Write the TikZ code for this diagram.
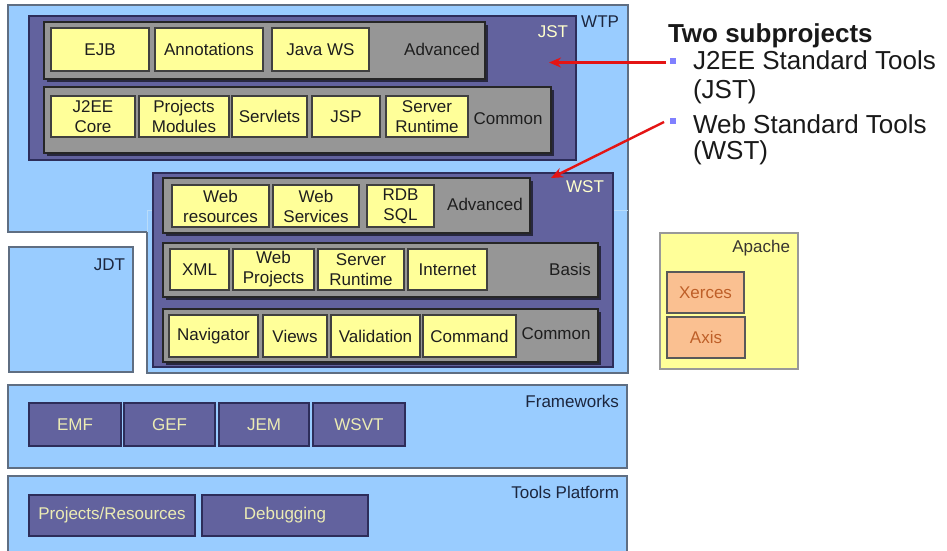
\documentclass[tikz,border=0pt]{standalone}
\usepackage{fontspec}
\setmainfont{Liberation Sans}
\usetikzlibrary{shadows,arrows.meta}
\definecolor{ltblue}{RGB}{153,204,255}
\definecolor{bordblue}{RGB}{95,110,130}
\definecolor{faint}{RGB}{185,220,250}
\definecolor{purp}{RGB}{98,98,158}
\definecolor{purpdark}{RGB}{45,45,90}
\definecolor{grayb}{RGB}{150,150,150}
\definecolor{yel}{RGB}{255,255,153}
\definecolor{peach}{RGB}{250,192,145}
\definecolor{peachtxt}{RGB}{190,95,40}
\definecolor{navy}{RGB}{28,38,62}
\definecolor{cream}{RGB}{236,236,180}
\definecolor{paleyel}{RGB}{255,255,204}
\definecolor{bul}{RGB}{128,128,255}
\definecolor{redc}{RGB}{228,20,20}
\definecolor{txt}{RGB}{30,30,30}
\begin{document}
\begin{tikzpicture}[x=1pt,y=-1pt,
  every node/.style={font=\fontsize{17}{20}\selectfont, inner sep=0pt, outer sep=0pt},
  container/.style={fill=ltblue, draw=bordblue, line width=1.4pt},
  subproj/.style={fill=purp, draw=purpdark, line width=1.4pt},
  grayrow/.style={fill=grayb, draw=black!85, line width=1.2pt,
     drop shadow={shadow xshift=2.5pt, shadow yshift=-2.5pt, fill=black, opacity=0.6}},
  ybox/.style={fill=yel, draw=black!75, line width=1.1pt, align=center, text=txt,
     drop shadow={shadow xshift=1.2pt, shadow yshift=-1.2pt, fill=black, opacity=0.35}},
  pbox/.style={fill=purp, draw=purpdark, line width=1.4pt, text=cream},
  obox/.style={fill=peach, draw=black!65, line width=1.1pt, text=peachtxt},
  rowlabel/.style={text=txt},
  darklabel/.style={text=navy, anchor=east},
  sublabel/.style={text=paleyel},
  bigtext/.style={font=\fontsize{26}{30}\selectfont, anchor=base west, text=black!90},
  bullet/.style={fill=bul, minimum width=6pt, minimum height=6pt},
  redarrow/.style={draw=redc, line width=2.4pt, -{Stealth[length=12pt,width=10pt]}}
]
\useasboundingbox (0,0) rectangle (947,550);
\fill[white] (0,0) rectangle (947,550);

% ---------- WTP container ----------
\coordinate (w1) at (8,5);
\coordinate (w2) at (628,5);
\coordinate (w3) at (628,373);
\coordinate (w4) at (147,373);
\coordinate (w5) at (147,232);
\coordinate (w6) at (8,232);
\coordinate (w7) at (147,210);
\coordinate (w8) at (628,210);
\path[container] (w1) -- (w2) -- (w3) -- (w4) -- (w5) -- (w6) -- cycle;
\draw[faint, line width=1pt] (w5) -- (w7) -- (w8);
\node[darklabel] (wtp) at (619,22) {WTP};

% ---------- JST ----------
\node[subproj, minimum width=547pt, minimum height=144pt] (jst) at (302.5,88) {};
\node[sublabel] (jstlab) at (553,32) {JST};

\node[grayrow, minimum width=441pt, minimum height=57pt] (jstadv) at (264.5,50.5) {};
\node[ybox, minimum width=98pt, minimum height=43pt] (ejb) at (100,49.5) {EJB};
\node[ybox, minimum width=108pt, minimum height=43pt] (annot) at (209,49.5) {Annotations};
\node[ybox, minimum width=97pt, minimum height=43pt] (javaws) at (320.5,49.5) {Java WS};
\node[rowlabel] (jstadvlab) at (442,49) {Advanced};

\node[grayrow, minimum width=507pt, minimum height=66pt] (jstcom) at (297.5,120) {};
\node[ybox, minimum width=84pt, minimum height=41pt] (j2ee) at (93,116.5) {J2EE\\Core};
\node[ybox, minimum width=90pt, minimum height=41pt] (projmod) at (184,116.5) {Projects\\Modules};
\node[ybox, minimum width=75pt, minimum height=41pt] (servlets) at (269.5,116.5) {Servlets};
\node[ybox, minimum width=68pt, minimum height=41pt] (jsp) at (346,116.5) {JSP};
\node[ybox, minimum width=82pt, minimum height=41pt] (srvrt1) at (427,116.5) {Server\\Runtime};
\node[rowlabel] (jstcomlab) at (508,119) {Common};

% ---------- WST ----------
\node[subproj, minimum width=460pt, minimum height=194pt] (wst) at (383,270) {};
\node[sublabel] (wstlab) at (585,187) {WST};

\node[grayrow, minimum width=367pt, minimum height=55pt] (wstadv) at (346.5,205.5) {};
\node[ybox, minimum width=97pt, minimum height=42pt] (webres) at (220.5,206) {Web\\resources};
\node[ybox, minimum width=86pt, minimum height=42pt] (websrv) at (316,206) {Web\\Services};
\node[ybox, minimum width=67pt, minimum height=42pt] (rdb) at (400.5,206) {RDB\\SQL};
\node[rowlabel] (wstadvlab) at (485,204) {Advanced};

\node[grayrow, minimum width=435pt, minimum height=54pt] (wstbas) at (380.5,270) {};
\node[ybox, minimum width=59pt, minimum height=41pt] (xml) at (199.5,269.5) {XML};
\node[ybox, minimum width=81pt, minimum height=41pt] (webproj) at (273.5,269.5) {Web\\Projects};
\node[ybox, minimum width=86pt, minimum height=41pt] (srvrt2) at (361,269.5) {Server\\Runtime};
\node[ybox, minimum width=79pt, minimum height=41pt] (internet) at (447.5,269.5) {Internet};
\node[rowlabel] (wstbaslab) at (570,269) {Basis};

\node[grayrow, minimum width=435pt, minimum height=53pt] (wstcom) at (380.5,335.5) {};
\node[ybox, minimum width=89pt, minimum height=42pt] (nav) at (213.5,336) {Navigator};
\node[ybox, minimum width=64pt, minimum height=42pt] (views) at (295,336) {Views};
\node[ybox, minimum width=89pt, minimum height=42pt] (valid) at (375.5,336) {Validation};
\node[ybox, minimum width=93pt, minimum height=42pt] (command) at (469.5,336) {Command};
\node[rowlabel] (wstcomlab) at (556,334) {Common};

% ---------- JDT ----------
\node[container, minimum width=124pt, minimum height=125pt] (jdt) at (71,309.5) {};
\node[darklabel] (jdtlab) at (125,265) {JDT};

% ---------- Frameworks ----------
\node[container, minimum width=619pt, minimum height=83pt] (fw) at (317.5,426.5) {};
\node[darklabel] (fwlab) at (619,401) {Frameworks};
\node[pbox, minimum width=92pt, minimum height=43pt] (emf) at (75,424.5) {EMF};
\node[pbox, minimum width=91pt, minimum height=43pt] (gef) at (169.5,424.5) {GEF};
\node[pbox, minimum width=90pt, minimum height=43pt] (jem) at (264,424.5) {JEM};
\node[pbox, minimum width=92pt, minimum height=43pt] (wsvt) at (359,424.5) {WSVT};

% ---------- Tools Platform ----------
\node[container, minimum width=619pt, minimum height=80pt] (tp) at (317.5,516) {};
\node[darklabel] (tplab) at (619,492) {Tools Platform};
\node[pbox, minimum width=166pt, minimum height=41pt] (projres) at (112,515.5) {Projects/Resources};
\node[pbox, minimum width=166pt, minimum height=41pt] (debug) at (285,515.5) {Debugging};

% ---------- Apache ----------
\node[fill=yel, draw=black!40, line width=1.3pt, minimum width=138pt, minimum height=136pt] (apache) at (729,301) {};
\node[text=black!75!yellow!40!black, anchor=east] (apachelab) at (790,248) {Apache};
\node[obox, minimum width=77pt, minimum height=41pt] (xerces) at (705.5,292.5) {Xerces};
\node[obox, minimum width=78pt, minimum height=41pt] (axis) at (706,337.5) {Axis};

% ---------- Text on the right ----------
\node[bigtext, font=\fontsize{26}{30}\selectfont\bfseries] (title) at (668,42) {Two subprojects};
\node[bullet] (b1) at (672.5,61) {};
\node[bigtext] (t1) at (693,69) {J2EE Standard Tools};
\node[bigtext] (t1b) at (693,98) {(JST)};
\node[bullet] (b2) at (672.5,121) {};
\node[bigtext] (t2) at (693,133) {Web Standard Tools};
\node[bigtext] (t2b) at (693,159) {(WST)};

% ---------- Red arrows ----------
\coordinate (a1s) at (666,62.5);
\coordinate (a1e) at (549,62.5);
\coordinate (a2s) at (664,122);
\coordinate (a2e) at (551,178);
\draw[redarrow] (a1s) -- (a1e);
\draw[redarrow] (a2s) -- (a2e);
\end{tikzpicture}
\end{document}
